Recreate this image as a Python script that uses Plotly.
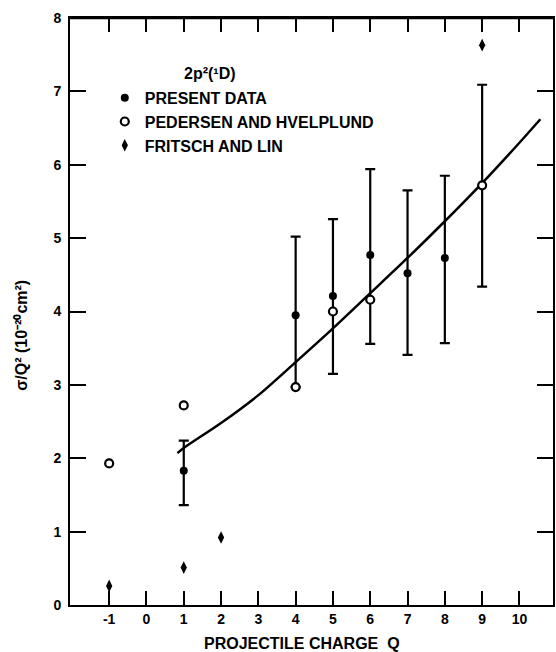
import plotly.graph_objects as go

# Present data (filled circles) with error bars
present_q = [1, 4, 5, 6, 7, 8, 9]
present_y = [1.83, 3.95, 4.21, 4.77, 4.52, 4.73, 5.72]
present_err_plus = [0.41, 1.07, 1.05, 1.17, 1.13, 1.12, 1.37]
present_err_minus = [0.47, 0.98, 1.06, 1.21, 1.11, 1.16, 1.38]

# Pedersen and Hvelplund (open circles)
ped_q = [-1, 1, 4, 5, 6, 9]
ped_y = [1.93, 2.72, 2.97, 4.00, 4.16, 5.72]

# Fritsch and Lin (diamonds)
fr_q = [-1, 1, 2, 9]
fr_y = [0.26, 0.51, 0.92, 7.63]

# Theory curve
curve_q = [0.83, 1, 2, 3, 4, 5, 6, 7, 8, 9, 10, 10.56]
curve_y = [2.07, 2.14, 2.48, 2.86, 3.31, 3.77, 4.25, 4.73, 5.23, 5.75, 6.30, 6.62]

x_ticks = [-1, 0, 1, 2, 3, 4, 5, 6, 7, 8, 9, 10]
y_ticks = [0, 1, 2, 3, 4, 5, 6, 7, 8]

FONT = "Liberation Sans"
X_RANGE = [-2.05, 10.9]
Y_RANGE = [0, 8]

fig = go.Figure()
fig.add_trace(go.Scatter(x=curve_q, y=curve_y, mode="lines",
                         line=dict(color="black", width=2.5, shape="spline", smoothing=0.8),
                         showlegend=False, hoverinfo="skip"))
fig.add_trace(go.Scatter(x=present_q, y=present_y, mode="markers", name="<b>PRESENT DATA</b>",
                         marker=dict(symbol="circle", size=8, color="black"),
                         error_y=dict(type="data", symmetric=False, array=present_err_plus,
                                      arrayminus=present_err_minus, color="black", thickness=2.2, width=5)))
fig.add_trace(go.Scatter(x=ped_q, y=ped_y, mode="markers", name="<b>PEDERSEN AND HVELPLUND</b>",
                         marker=dict(symbol="circle", size=8, color="white", line=dict(color="black", width=2.2))))
fig.add_trace(go.Scatter(x=fr_q, y=fr_y, mode="markers", name="<b>FRITSCH AND LIN</b>",
                         marker=dict(symbol="diamond-tall", size=9, color="black")))

axis_common = dict(showgrid=False, zeroline=False, linecolor="black", linewidth=2,
                   ticks="inside", tickcolor="#000000", tickwidth=2, showline=True, mirror="allticks",
                   layer="above traces", tickfont=dict(family=FONT, size=14, color="black"))

fig.update_xaxes(range=X_RANGE, tickmode="array", tickvals=x_ticks,
                 ticktext=["<b>%d</b>" % v for v in x_ticks], ticklen=14, **axis_common)
fig.update_yaxes(range=Y_RANGE, tickmode="array", tickvals=y_ticks,
                 ticktext=["<b>%d</b> " % v for v in y_ticks], ticklen=16, **axis_common)

fig.update_layout(
    width=556, height=652,
    margin=dict(l=70, r=1, t=18, b=47),
    paper_bgcolor="white", plot_bgcolor="rgba(0,0,0,0)",
    font=dict(family=FONT, color="black"),
    legend=dict(x=0.072, y=0.893, xanchor="left", yanchor="top", bgcolor="rgba(0,0,0,0)",
                font=dict(family=FONT, size=16, color="black"), tracegroupgap=0, itemwidth=30),
    shapes=[
        dict(type="line", xref="paper", yref="paper", x0=0, x1=1, y0=1, y1=1,
             line=dict(color="black", width=2.5), layer="above"),
    ],
    annotations=[
        dict(text="<b>2p²(¹D)</b>", x=0.29, y=0.906, xref="paper", yref="paper", showarrow=False,
             font=dict(family=FONT, size=16, color="black"), xanchor="center", yanchor="middle"),
        dict(text="<b>PROJECTILE CHARGE  Q</b>", x=0.48, y=-0.065, xref="paper", yref="paper", showarrow=False,
             font=dict(family=FONT, size=16, color="black"), xanchor="center", yanchor="middle"),
        dict(text="<b>σ/Q² (10⁻²⁰cm²)</b>", x=-0.1, y=0.46, xref="paper", yref="paper", showarrow=False,
             textangle=-90, font=dict(family=FONT, size=16, color="black"), xanchor="center", yanchor="middle"),
    ],
)

fig.write_html("out.html")
